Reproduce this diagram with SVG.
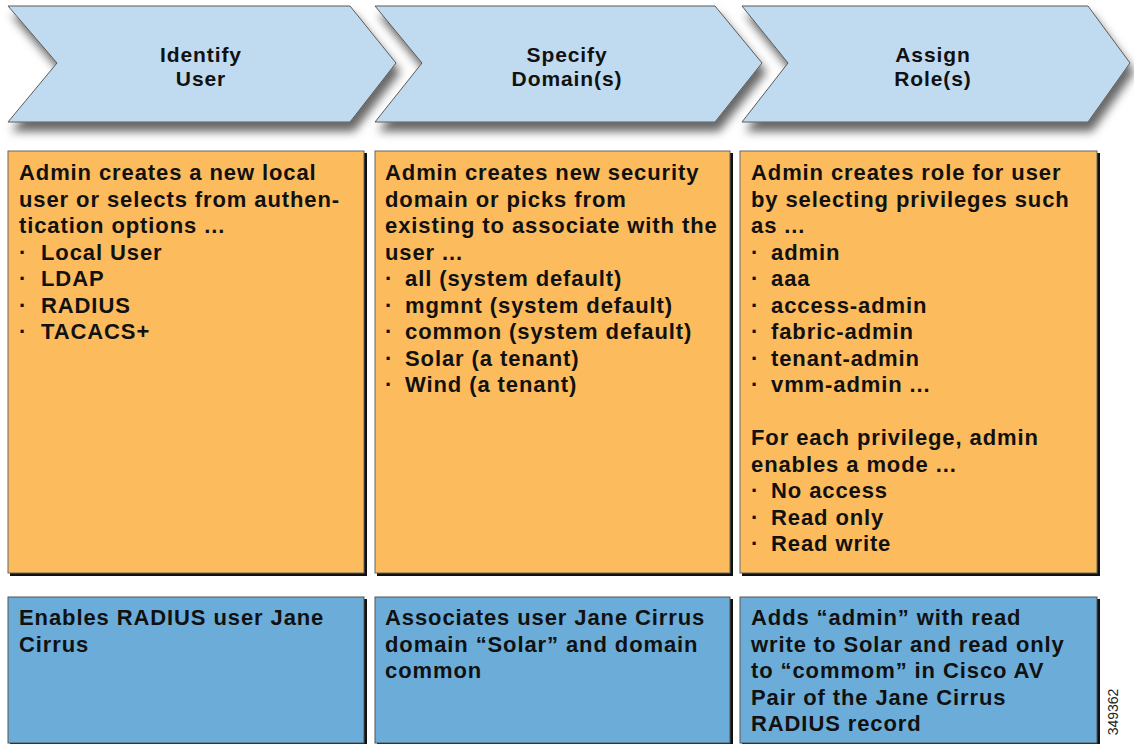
<svg xmlns="http://www.w3.org/2000/svg" width="1134" height="744" viewBox="0 0 1134 744">
<defs>
<filter id="sh" x="-10%" y="-20%" width="130%" height="160%">
<feDropShadow dx="4" dy="9" stdDeviation="5" flood-color="#000" flood-opacity="0.6"/>
</filter>
</defs>
<style>
.chev{fill:#c0daef;stroke:#5a5a5a;stroke-width:1}
.ht{font-family:"Liberation Sans",Arial,sans-serif;font-weight:bold;font-size:21px;letter-spacing:0.9px;fill:#111;text-anchor:middle}
.bt{font-family:"Liberation Sans",Arial,sans-serif;font-weight:bold;font-size:22px;letter-spacing:0.9px;fill:#111}
.or{fill:#fcbb5c;stroke:#666;stroke-width:1}
.bl{fill:#6badd8;stroke:#555;stroke-width:1}
.dk{fill:#111}
.num{font-family:"Liberation Sans",Arial,sans-serif;font-size:14px;fill:#222;text-anchor:middle}
</style>
<rect width="1134" height="744" fill="#fff"/>
<g id="step-identify-user">
<polygon class="chev" filter="url(#sh)" points="8,6 350,6 396,63 350,122 8,122 57,63"/>
<text class="ht" x="201" y="62">Identify</text>
<text class="ht" x="201" y="86">User</text>
</g>
<g id="step-specify-domains">
<polygon class="chev" filter="url(#sh)" points="375,6 715,6 762,63 715,122 375,122 422,63"/>
<text class="ht" x="567" y="62">Specify</text>
<text class="ht" x="567" y="86">Domain(s)</text>
</g>
<g id="step-assign-roles">
<polygon class="chev" filter="url(#sh)" points="742,6 1088,6 1130,63 1088,122 742,122 788,63"/>
<text class="ht" x="933" y="62">Assign</text>
<text class="ht" x="933" y="86">Role(s)</text>
</g>
<g id="box-identify-options">
<rect class="dk" x="10" y="153" width="357" height="423"/>
<rect class="or" x="8" y="151" width="356" height="422"/>
<text class="bt">
<tspan x="19" y="180">Admin creates a new local</tspan>
<tspan x="19" y="206.5">user or selects from authen-</tspan>
<tspan x="19" y="233">tication options ...</tspan>
<tspan x="19" y="259.5">·</tspan><tspan x="41">Local User</tspan>
<tspan x="19" y="286">·</tspan><tspan x="41">LDAP</tspan>
<tspan x="19" y="312.5">·</tspan><tspan x="41">RADIUS</tspan>
<tspan x="19" y="339">·</tspan><tspan x="41">TACACS+</tspan>
</text>
</g>
<g id="box-domain-options">
<rect class="dk" x="377" y="153" width="356" height="423"/>
<rect class="or" x="375" y="151" width="355" height="422"/>
<text class="bt">
<tspan x="385" y="180">Admin creates new security</tspan>
<tspan x="385" y="206.5">domain or picks from</tspan>
<tspan x="385" y="233">existing to associate with the</tspan>
<tspan x="385" y="259.5">user ...</tspan>
<tspan x="385" y="286">·</tspan><tspan x="405">all (system default)</tspan>
<tspan x="385" y="312.5">·</tspan><tspan x="405">mgmnt (system default)</tspan>
<tspan x="385" y="339">·</tspan><tspan x="405">common (system default)</tspan>
<tspan x="385" y="365.5">·</tspan><tspan x="405">Solar (a tenant)</tspan>
<tspan x="385" y="392">·</tspan><tspan x="405">Wind (a tenant)</tspan>
</text>
</g>
<g id="box-role-options">
<rect class="dk" x="742" y="153" width="358" height="423"/>
<rect class="or" x="740" y="151" width="357" height="422"/>
<text class="bt">
<tspan x="751" y="180">Admin creates role for user</tspan>
<tspan x="751" y="206.5">by selecting privileges such</tspan>
<tspan x="751" y="233">as ...</tspan>
<tspan x="751" y="259.5">·</tspan><tspan x="771">admin</tspan>
<tspan x="751" y="286">·</tspan><tspan x="771">aaa</tspan>
<tspan x="751" y="312.5">·</tspan><tspan x="771">access-admin</tspan>
<tspan x="751" y="339">·</tspan><tspan x="771">fabric-admin</tspan>
<tspan x="751" y="365.5">·</tspan><tspan x="771">tenant-admin</tspan>
<tspan x="751" y="392">·</tspan><tspan x="771">vmm-admin ...</tspan>
<tspan x="751" y="445">For each privilege, admin</tspan>
<tspan x="751" y="471.5">enables a mode ...</tspan>
<tspan x="751" y="498">·</tspan><tspan x="771">No access</tspan>
<tspan x="751" y="524.5">·</tspan><tspan x="771">Read only</tspan>
<tspan x="751" y="551">·</tspan><tspan x="771">Read write</tspan>
</text>
</g>
<g id="example-identify">
<rect class="dk" x="10" y="599" width="357" height="147"/>
<rect class="bl" x="8" y="597" width="356" height="146"/>
<text class="bt">
<tspan x="19" y="625">Enables RADIUS user Jane</tspan>
<tspan x="19" y="651.5">Cirrus</tspan>
</text>
</g>
<g id="example-domain">
<rect class="dk" x="377" y="599" width="356" height="147"/>
<rect class="bl" x="375" y="597" width="355" height="146"/>
<text class="bt">
<tspan x="385" y="625">Associates user Jane Cirrus</tspan>
<tspan x="385" y="651.5">domain “Solar” and domain</tspan>
<tspan x="385" y="678">common</tspan>
</text>
</g>
<g id="example-role">
<rect class="dk" x="742" y="599" width="358" height="147"/>
<rect class="bl" x="740" y="597" width="357" height="146"/>
<text class="bt">
<tspan x="751" y="625">Adds “admin” with read</tspan>
<tspan x="751" y="651.5">write to Solar and read only</tspan>
<tspan x="751" y="678">to “commom” in Cisco AV</tspan>
<tspan x="751" y="704.5">Pair of the Jane Cirrus</tspan>
<tspan x="751" y="731">RADIUS record</tspan>
</text>
</g>
<g id="connectors"></g>
<text class="num" transform="translate(1118,712) rotate(-90)">349362</text>
</svg>
